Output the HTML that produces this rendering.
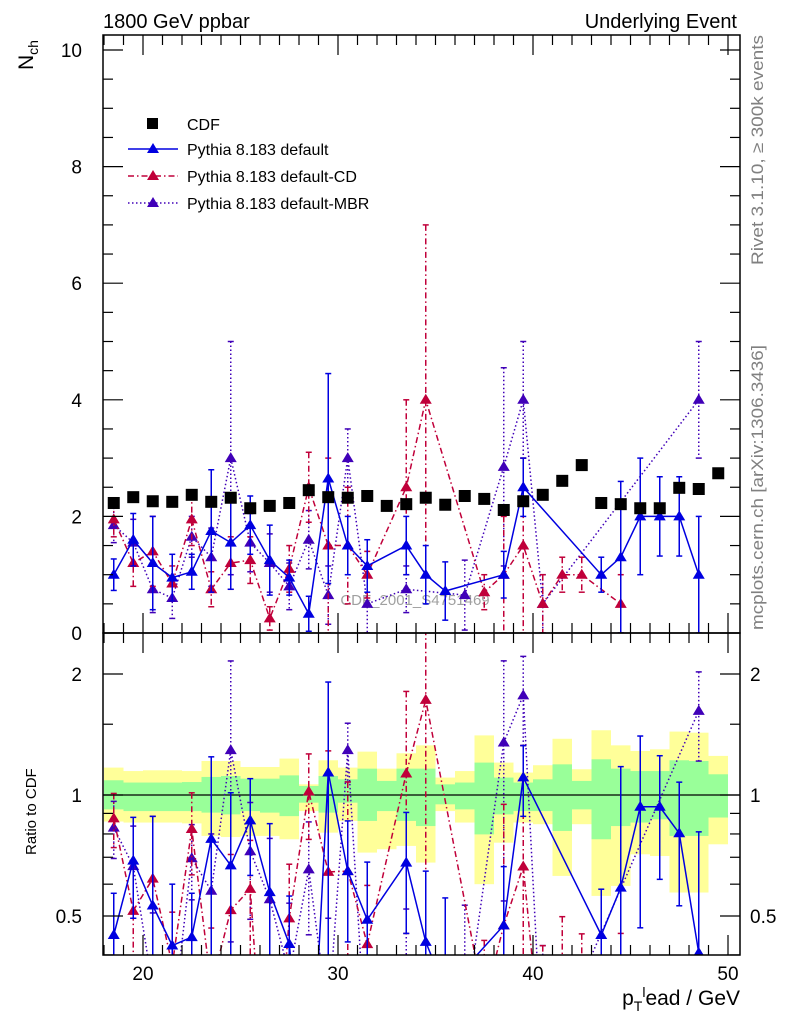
<!DOCTYPE html>
<html><head><meta charset="utf-8">
<style>
html,body{margin:0;padding:0;background:#fff;width:786px;height:1024px;overflow:hidden;}
svg{display:block;font-family:"Liberation Sans",sans-serif;}
</style></head>
<body>
<svg id="chart" width="786" height="1024" viewBox="0 0 786 1024" xmlns="http://www.w3.org/2000/svg">
<defs>
<clipPath id="clipMain"><rect x="103" y="35" width="637" height="598"/></clipPath>
<clipPath id="clipRatio"><rect x="103" y="633" width="637" height="322"/></clipPath>
</defs>
<g id="bands" clip-path="url(#clipRatio)"></g>
<g id="ratioMarks" clip-path="url(#clipRatio)"></g>
<text x="415" y="605" font-size="15" fill="#a0a0a0" text-anchor="middle">CDF_2001_S4751469</text>
<g id="mainMarks" clip-path="url(#clipMain)"></g>
<g id="axes"></g>
<text x="103" y="28" font-size="20">1800 GeV ppbar</text>
<text x="737" y="28" font-size="20" text-anchor="end">Underlying Event</text>
<text transform="translate(33,70) rotate(-90)" font-size="21">N<tspan font-size="14" dy="5">ch</tspan></text>
<text transform="translate(36,855) rotate(-90)" font-size="15">Ratio to CDF</text>
<text x="740" y="1005" font-size="21" text-anchor="end">p<tspan font-size="14" dy="6">T</tspan><tspan font-size="14" dy="-14">l</tspan><tspan dy="8">ead / GeV</tspan></text>
<text transform="translate(763,265) rotate(-90)" font-size="16.5" fill="#808080" textLength="230" lengthAdjust="spacingAndGlyphs">Rivet 3.1.10, ≥ 300k events</text>
<text transform="translate(763,630) rotate(-90)" font-size="16.5" fill="#808080" textLength="285" lengthAdjust="spacingAndGlyphs">mcplots.cern.ch [arXiv:1306.3436]</text>
<g id="legend">
<rect x="147" y="118" width="11" height="11" fill="#000"/>
<text x="187" y="130" font-size="16">CDF</text>
<line x1="128" y1="149" x2="178" y2="149" stroke="#0000e0" stroke-width="1.5"/>
<polygon points="153,143 147,153 159,153" fill="#0000e0"/>
<text x="187" y="155" font-size="16">Pythia 8.183 default</text>
<line x1="128" y1="176" x2="178" y2="176" stroke="#c0003a" stroke-width="1.5" stroke-dasharray="6,3,1.5,3"/>
<polygon points="153,170 147,180 159,180" fill="#c0003a"/>
<text x="187" y="182" font-size="16">Pythia 8.183 default-CD</text>
<line x1="128" y1="203" x2="178" y2="203" stroke="#4000b8" stroke-width="1.5" stroke-dasharray="1.5,2.5"/>
<polygon points="153,197 147,207 159,207" fill="#4000b8"/>
<text x="187" y="209" font-size="16">Pythia 8.183 default-MBR</text>
</g>
</svg>
<script>
const binCenters = [18.5,19.5,20.5,21.5,22.5,23.5,24.5,25.5,26.5,27.5,28.5,29.5,30.5,31.5,32.5,33.5,34.5,35.5,36.5,37.5,38.5,39.5,40.5,41.5,42.5,43.5,44.5,45.5,46.5,47.5,48.5,49.5];
const cdfValues = [2.23,2.33,2.26,2.25,2.37,2.25,2.32,2.14,2.18,2.23,2.45,2.33,2.32,2.35,2.18,2.21,2.32,2.20,2.35,2.30,2.11,2.26,2.37,2.61,2.88,2.23,2.21,2.14,2.14,2.49,2.47,2.74];
const defaultValues = [1.0,1.6,1.2,0.95,1.05,1.75,1.55,1.85,1.25,0.95,0.33,2.65,1.5,1.15,null,1.5,1.0,0.72,null,null,1.0,2.5,null,null,null,1.0,1.3,2.0,2.0,2.0,1.0,null];
const defaultErrors = [0.27,0.45,0.8,0.4,0.3,1.05,0.8,0.5,0.6,0.3,0.3,1.8,0.5,0.45,0,0.5,0.5,0.5,0,0,0.4,0.5,0,0,0,0.3,1.3,1.0,0.68,0.68,1.0,0];
const cdValues = [1.95,1.2,1.4,0.85,1.95,0.75,1.2,1.25,0.25,1.1,2.5,1.5,1.5,1.0,null,2.5,4.0,null,null,0.7,1.0,1.5,0.5,1.0,1.0,null,0.5,null,null,null,null,null];
const cdErrors = [0.3,0.4,0.6,0.3,0.45,0.3,0.45,0.4,0.2,0.4,0.6,1.5,1.0,0.4,0,1.5,3.0,0,0,0.3,1.0,1.5,0.5,0.3,0.3,0,0.5,0,0,0,0,0];
const mbrValues = [1.85,1.55,0.75,0.6,1.65,1.3,3.0,1.55,1.2,0.8,1.6,0.65,3.0,0.5,null,0.75,null,null,0.65,null,2.85,4.0,0.5,null,null,null,null,null,null,null,4.0,null];
const mbrErrors = [0.3,0.4,0.4,0.35,0.35,0.5,2.0,0.5,0.5,0.4,0.5,0.5,0.5,0.5,0,0.4,0,0,0.6,0,1.7,1.0,0.5,0,0,0,0,0,0,0,1.0,0];
const bandYellowHi = [1.170,1.147,1.152,1.152,1.147,1.215,1.215,1.174,1.174,1.232,1.063,1.220,1.170,1.282,1.163,1.270,1.329,1.105,1.147,1.407,1.204,1.137,1.186,1.380,1.159,1.449,1.329,1.287,1.299,1.438,1.429,1.251];
const bandGreenHi = [1.088,1.074,1.074,1.074,1.077,1.109,1.115,1.098,1.098,1.119,1.053,1.115,1.094,1.163,1.084,1.163,1.163,1.063,1.074,1.204,1.105,1.074,1.094,1.192,1.084,1.227,1.163,1.147,1.147,1.220,1.215,1.126];
const bandGreenLo = [0.921,0.912,0.912,0.912,0.912,0.904,0.895,0.912,0.904,0.886,0.957,0.904,0.957,0.862,0.912,0.862,0.837,0.948,0.921,0.798,0.895,0.912,0.912,0.814,0.921,0.776,0.837,0.854,0.870,0.791,0.791,0.879];
const bandYellowLo = [0.859,0.854,0.854,0.854,0.850,0.791,0.786,0.791,0.791,0.776,0.912,0.806,0.862,0.719,0.733,0.747,0.679,0.912,0.854,0.600,0.761,0.854,0.846,0.629,0.846,0.561,0.594,0.712,0.705,0.572,0.572,0.754];
const xTicks = [20,30,40,50];
const yTicks = [0,2,4,6,8,10];
const ratioTicks = [0.5,1,2];

const NS='http://www.w3.org/2000/svg';
const X0=103,X1=740,Y0=35,YM=633,YR=955;
const xs=v=>143+(v-20)*19.5;
const ys=v=>633-v*58.3;
const yr=v=>795-121*Math.log2(v);
function mk(tag,attrs,parent){const e=document.createElementNS(NS,tag);for(const k in attrs)e.setAttribute(k,attrs[k]);parent.appendChild(e);return e;}
const bands=document.getElementById('bands');
const mainG=document.getElementById('mainMarks');
const ratioG=document.getElementById('ratioMarks');
const axes=document.getElementById('axes');

binCenters.forEach((c,i)=>{
  const x=xs(c-0.5),w=19.5;
  let r=mk('rect',{x:x,y:yr(bandYellowHi[i]),width:w,height:yr(bandYellowLo[i])-yr(bandYellowHi[i]),fill:'#ffff99'},bands);
  
  
  let g=mk('rect',{x:x,y:yr(bandGreenHi[i]),width:w,height:yr(bandGreenLo[i])-yr(bandGreenHi[i]),fill:'#99ff99'},bands);
  
  
});
let one=mk('line',{x1:X0,x2:X1,y1:yr(1),y2:yr(1),stroke:'#000','stroke-width':1.2},bands);



function tri(x,y,col,parent,name){
  const p=mk('polygon',{points:`${x},${y-6} ${x-6},${y+4} ${x+6},${y+4}`,fill:col},parent);
  
  
}
function series(vals,errs,col,dash,name){
  [mainG,ratioG].forEach((par,pi)=>{
    const f=pi===0?ys:yr;
    const pts=[];
    vals.forEach((v,i)=>{
      if(v===null)return;
      const d=pi===0?1:cdfValues[i];
      const val=v/d, e=errs[i]/d;
      const x=xs(binCenters[i]);
      pts.push([x,f(val)]);
      if(e>0){
        const lo=pi===0?Math.max(val-e,0.0001):Math.max(val-e,0.01);
        const l=mk('line',{x1:x,x2:x,y1:f(val+e),y2:f(lo),stroke:col,'stroke-width':1.5,'stroke-dasharray':dash},par);
        
        
        [val+e,lo].forEach(yy=>{const c=mk('line',{x1:x-3,x2:x+3,y1:f(yy),y2:f(yy),stroke:col,'stroke-width':1.5},par);
          
          });
      }
    });
    const pl=mk('polyline',{points:pts.map(p=>p.join(',')).join(' '),fill:'none',stroke:col,'stroke-width':1.5,'stroke-dasharray':dash},par);
    
    
    pts.forEach(p=>tri(p[0],p[1],col,par,name+'-point'));
  });
}
series(mbrValues,mbrErrors,'#4000b8','1.5,2.5','mbr');
series(cdValues,cdErrors,'#c0003a','6,3,1.5,3','cd');
series(defaultValues,defaultErrors,'#0000e0','none','default');
binCenters.forEach((c,i)=>{
  const r=mk('rect',{x:xs(c)-6,y:ys(cdfValues[i])-6,width:12,height:12,fill:'#000'},mainG);
  
  
});

[[Y0,YM],[YM,YR]].forEach(([a,b])=>{
  const f=mk('rect',{x:X0,y:a,width:X1-X0,height:b-a,fill:'none',stroke:'#000','stroke-width':1.5},axes);
  
  
});
function ln(x1,y1,x2,y2,name){const l=mk('line',{x1,y1,x2,y2,stroke:'#000','stroke-width':1.2},axes);
  
  }
for(let v=18;v<=50;v++){
  const x=xs(v),major=v%10===0,len=major?20:10;
  ln(x,YR,x,YR-len,'x-tick');ln(x,YM,x,YM-len,'x-tick');ln(x,YM,x,YM+len,'x-tick');ln(x,Y0,x,Y0+len,'x-tick');
}
xTicks.forEach(v=>{const t=mk('text',{x:xs(v),y:980,'font-size':19,'text-anchor':'middle'},axes);t.textContent=v;
  
  });
for(let v=0;v<=10.25;v+=0.5){
  const y=ys(v),major=Math.abs(v%2)<1e-6,len=major?20:10;
  ln(X0,y,X0+len,y,'y-tick');ln(X1,y,X1-len,y,'y-tick');
}
yTicks.forEach(v=>{const t=mk('text',{x:82,y:ys(v)+7,'font-size':19,'text-anchor':'end'},axes);t.textContent=v;
  
  });
[0.4,0.5,0.6,0.7,0.8,0.9,1,1.5,2].forEach(v=>{
  const y=yr(v),major=ratioTicks.includes(v),len=major?20:10;
  ln(X0,y,X0+len,y,'ratio-tick');ln(X1,y,X1-len,y,'ratio-tick');
});
ratioTicks.forEach(v=>{
  const t=mk('text',{x:82,y:yr(v)+7,'font-size':19,'text-anchor':'end'},axes);t.textContent=v;
  
  
  const t2=mk('text',{x:750,y:yr(v)+7,'font-size':19},axes);t2.textContent=v;
  
  
});
</script>
</body></html>
